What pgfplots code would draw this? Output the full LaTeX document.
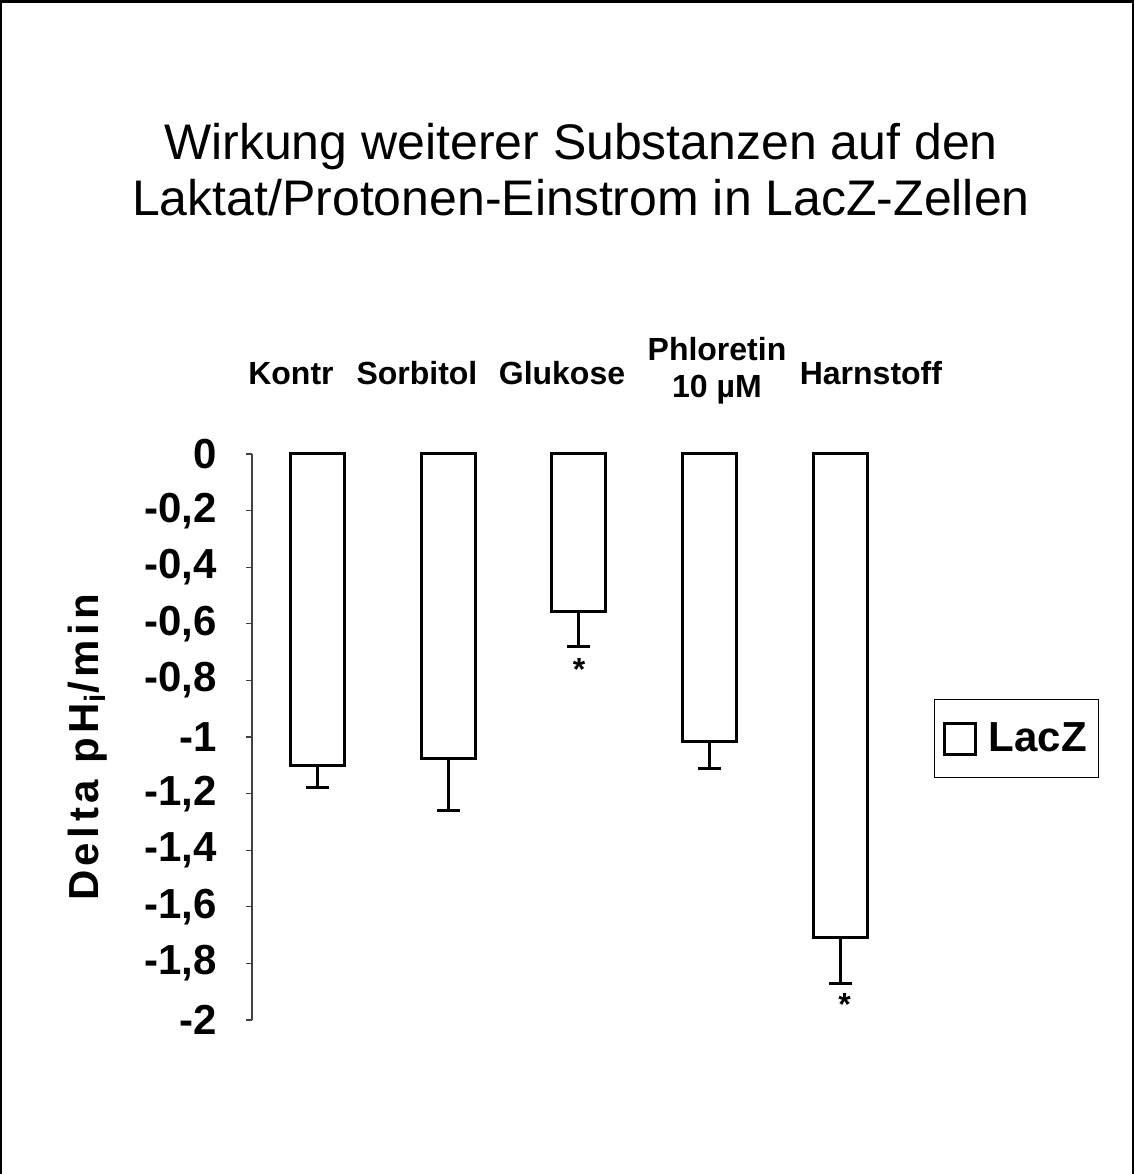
\documentclass[border=0pt]{standalone}
\usepackage{fontspec}
\setmainfont{Liberation Sans}
\usepackage{pgfplots}
\pgfplotsset{compat=1.18}
\begin{document}
\begin{tikzpicture}[x=1pt,y=1pt]
\useasboundingbox (0,0) rectangle (567.5,587);
\draw[line width=1.2pt] (0.6,0) -- (0.6,586.2) -- (566.6,586.2) -- (566.6,0);
\node[anchor=base,font=\fontsize{25}{28}\selectfont,inner sep=0pt] at (290.5,507) {Wirkung weiterer Substanzen auf den};
\node[anchor=base,font=\fontsize{25}{28}\selectfont,inner sep=0pt] at (290.5,479) {Laktat/Protonen-Einstrom in LacZ-Zellen};
\begin{axis}[
  at={(126pt,77pt)}, anchor=south west,
  scale only axis, width=327pt, height=283pt,
  xmin=-0.5, xmax=4.5, ymin=-2, ymax=0,
  axis x line=none, axis y line*=left,
  ytick={-2,-1.8,-1.6,-1.4,-1.2,-1,-0.8,-0.6,-0.4,-0.2,0},
  yticklabels={-2,{-1,8},{-1,6},{-1,4},{-1,2},-1,{-0,8},{-0,6},{-0,4},{-0,2},0},
  tick align=outside, major tick length=3pt,
  y axis line style={black!75, line width=0.6pt},
  ytick style={black!75, line width=0.6pt},
  yticklabel style={font=\bfseries\fontsize{21}{25}\selectfont, xshift=-11pt},
  ylabel={\addfontfeatures{LetterSpace=11}Delta pH\textsubscript{i}/min},
  ylabel style={at={(axis description cs:-0.251,0.482)}, anchor=center,
    font=\bfseries\fontsize{21}{25}\selectfont},
  clip=false,
  ybar, bar width=27pt,
  legend style={at={(axis description cs:1.043,0.567)}, anchor=north west,
    draw=black, line width=0.6pt, font=\bfseries\fontsize{21}{25}\selectfont,
    inner xsep=4pt, inner ysep=9.5pt, column sep=4pt},
  legend image code/.code={\draw[line width=1.5pt, fill=white, draw=black] (0pt,-7.75pt) rectangle (15.5pt,7.75pt);},
]
\addplot[fill=white, draw=black, line width=1.5pt,
  error bars/.cd, y dir=minus, y explicit,
  error bar style={line width=1.5pt, black},
  error mark options={rotate=90, mark size=5.75pt, line width=1.5pt, black}]
  table[x=x, y=y, y error=e] {
x y e
0 -1.10 0.08
1 -1.075 0.185
2 -0.555 0.125
3 -1.015 0.095
4 -1.71 0.16
};
\addlegendentry{LacZ}
\node[anchor=base, font=\bfseries\fontsize{16}{19}\selectfont] at (axis cs:-0.202,0.244) {Kontr};
\node[anchor=base, font=\bfseries\fontsize{16}{19}\selectfont] at (axis cs:0.761,0.244) {Sorbitol};
\node[anchor=base, font=\bfseries\fontsize{16}{19}\selectfont] at (axis cs:1.870,0.244) {Glukose};
\node[anchor=base, font=\bfseries\fontsize{16}{19}\selectfont] at (axis cs:3.055,0.332) {Phloretin};
\node[anchor=base, font=\bfseries\fontsize{16}{19}\selectfont] at (axis cs:3.055,0.198) {10 µM};
\node[anchor=base, font=\bfseries\fontsize{16}{19}\selectfont] at (axis cs:4.232,0.244) {Harnstoff};
\node[anchor=base, font=\bfseries\fontsize{16}{19}\selectfont] at (axis cs:2,-0.80) {*};
\node[anchor=base, font=\bfseries\fontsize{16}{19}\selectfont] at (axis cs:4.03,-1.983) {*};
\end{axis}
\end{tikzpicture}
\end{document}
